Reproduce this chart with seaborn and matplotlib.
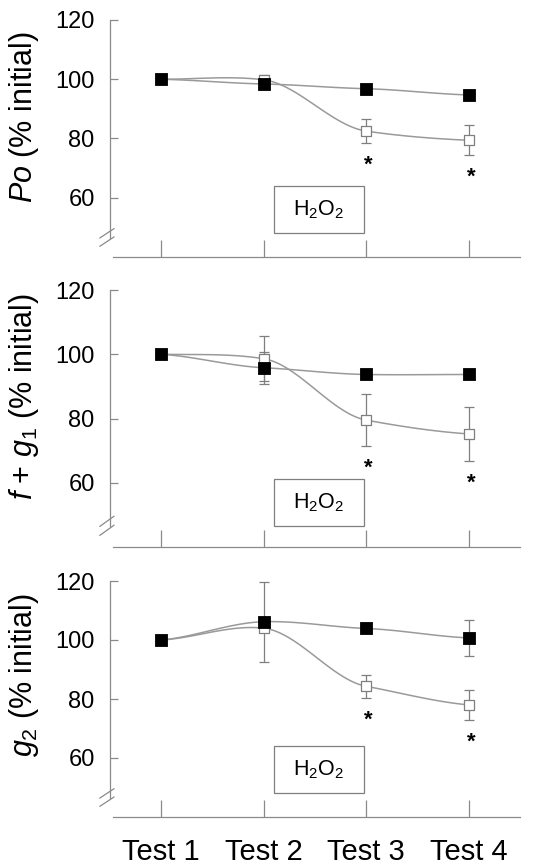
import numpy as np
import pandas as pd
import matplotlib
matplotlib.use("Agg")
import matplotlib.pyplot as plt
import seaborn as sns
from matplotlib.patches import Rectangle

sns.set_theme(style="white")
plt.rcParams['font.family'] = ['Liberation Sans', 'DejaVu Sans']
plt.rcParams['mathtext.fontset'] = 'custom'
plt.rcParams['mathtext.rm'] = 'Liberation Sans'
plt.rcParams['mathtext.it'] = 'Liberation Sans:italic'
plt.rcParams['mathtext.default'] = 'regular'
plt.rcParams['text.color'] = 'black'
plt.rcParams['axes.labelcolor'] = 'black'

# ---------------- data ----------------
tests = ["Test 1", "Test 2", "Test 3", "Test 4"]
ylabels = [r"$\mathit{Po}$ (% initial)",
           r"$\mathit{f}$ + $\mathit{g_1}$ (% initial)",
           r"$\mathit{g}_{2}$ (% initial)"]
treatment_label = r"H$_2$O$_2$"

# Po
po_ctrl = [100.0, 98.4, 96.8, 94.7]
po_ctrl_err = [0.0, 0.0, 0.0, 0.0]
po_h2o2 = [100.0, 99.8, 82.5, 79.4]
po_h2o2_err = [0.0, 1.5, 4.0, 5.0]
po_sig = [False, False, True, True]

# f + g1
fg1_ctrl = [100.0, 95.8, 93.7, 93.7]
fg1_ctrl_err = [0.0, 5.0, 0.0, 0.0]
fg1_h2o2 = [100.0, 98.6, 79.5, 75.2]
fg1_h2o2_err = [0.0, 7.0, 8.0, 8.5]
fg1_sig = [False, False, True, True]

# g2
g2_ctrl = [100.0, 106.2, 103.9, 100.7]
g2_ctrl_err = [0.0, 13.5, 0.0, 6.2]
g2_h2o2 = [100.0, 104.0, 84.3, 78.0]
g2_h2o2_err = [0.0, 0.0, 4.0, 5.0]
g2_sig = [False, False, True, True]

panels = [
    (po_ctrl, po_ctrl_err, po_h2o2, po_h2o2_err, po_sig),
    (fg1_ctrl, fg1_ctrl_err, fg1_h2o2, fg1_h2o2_err, fg1_sig),
    (g2_ctrl, g2_ctrl_err, g2_h2o2, g2_h2o2_err, g2_sig),
]

LINE = "#9a9a9a"
EDGE = "#7f7f7f"
AX = "#8a8a8a"


def smooth_curve(xs, ys, k=0.5, n=40):
    """Cardinal-spline rendering of the line through the data points."""
    xs = np.asarray(xs, float)
    ys = np.asarray(ys, float)
    m = np.zeros_like(ys)
    for i in range(len(ys)):
        if i == 0:
            m[i] = k * (ys[1] - ys[0]) / (xs[1] - xs[0])
        elif i == len(ys) - 1:
            m[i] = k * (ys[-1] - ys[-2]) / (xs[-1] - xs[-2])
        else:
            m[i] = k * (ys[i + 1] - ys[i - 1]) / (xs[i + 1] - xs[i - 1])
    px, py = [], []
    for i in range(len(ys) - 1):
        h = xs[i + 1] - xs[i]
        t = np.linspace(0, 1, n, endpoint=(i == len(ys) - 2))
        h00 = 2 * t**3 - 3 * t**2 + 1
        h10 = t**3 - 2 * t**2 + t
        h01 = -2 * t**3 + 3 * t**2
        h11 = t**3 - t**2
        px.append(xs[i] + t * h)
        py.append(h00 * ys[i] + h10 * h * m[i] + h01 * ys[i + 1] + h11 * h * m[i + 1])
    return np.concatenate(px), np.concatenate(py)


fig = plt.figure(figsize=(5.38, 8.67), dpi=100)
W, H = 538, 867
rects = [(20, 257), (290, 547), (581, 817)]
label_y = [0.59, 0.585, 0.6]
left_px, right_px = 110, 520

xpos = np.arange(len(tests))

for idx, ((ctrl, ctrl_err, trt, trt_err, sig), (top, bot)) in enumerate(zip(panels, rects)):
    ax = fig.add_axes([left_px / W, 1 - bot / H, (right_px - left_px) / W, (bot - top) / H])
    ax.set_xlim(-0.5, 3.5)
    ax.set_ylim(40, 120)

    # smooth connecting curves
    for vals in (trt, ctrl):
        sx, sy = smooth_curve(xpos, vals)
        sns.lineplot(x=sx, y=sy, ax=ax, color=LINE, lw=1.1, sort=False,
                     estimator=None, zorder=2)

    # error bars
    ax.errorbar(xpos, trt, yerr=trt_err, fmt='none', ecolor=EDGE, elinewidth=0.9,
                capsize=3.5, capthick=0.9, zorder=3)
    ax.errorbar(xpos, ctrl, yerr=ctrl_err, fmt='none', ecolor=EDGE, elinewidth=0.9,
                capsize=3.5, capthick=0.9, zorder=3)

    df_t = pd.DataFrame({"x": xpos, "y": trt})
    df_c = pd.DataFrame({"x": xpos, "y": ctrl})
    sns.scatterplot(data=df_t, x="x", y="y", ax=ax, marker='s', s=60,
                    facecolor='white', edgecolor=EDGE, linewidth=0.9, zorder=4)
    sns.scatterplot(data=df_c, x="x", y="y", ax=ax, marker='s', s=70,
                    color='black', edgecolor='black', linewidth=0.6, zorder=5)

    # significance asterisks
    for xi, v, e, s in zip(xpos, trt, trt_err, sig):
        if s:
            ax.annotate("*", xy=(xi, v - e), xytext=(1.5, -16), textcoords='offset points',
                        ha='center', va='center', fontsize=16, fontweight='bold',
                        color='black')

    # treatment box
    bx, bw = 0.40, 0.22
    by = 0.10 if idx != 1 else 0.08
    bh = 47 / (bot - top)
    ax.add_patch(Rectangle((bx, by), bw, bh, transform=ax.transAxes, fill=False,
                           edgecolor=EDGE, lw=0.9, zorder=1))
    ax.text(bx + bw / 2, by + bh / 2, treatment_label, transform=ax.transAxes,
            ha='center', va='center', fontsize=15.5, color='black')

    # axes styling
    for sp in ("top", "right"):
        ax.spines[sp].set_visible(False)
    ax.spines["left"].set_color(AX)
    ax.spines["bottom"].set_color(AX)
    ax.spines["left"].set_linewidth(0.9)
    ax.spines["bottom"].set_linewidth(0.9)
    ax.spines["left"].set_bounds(46.5, 120)
    ax.spines["bottom"].set_bounds(-0.47, 3.5)

    # axis break marks
    for dy in (0.0, 0.035):
        ax.plot([-0.025, 0.01], [0.045 + dy, 0.085 + dy], transform=ax.transAxes,
                color=AX, lw=0.9, clip_on=False)

    ax.set_yticks([60, 80, 100, 120])
    ax.set_xticks(xpos)
    ax.tick_params(axis='y', direction='in', length=6, width=0.9, color=AX,
                   labelcolor='black', labelsize=17, pad=11, left=True)
    ax.tick_params(axis='x', direction='in', length=12, width=0.9, color=AX,
                   labelcolor='black', labelsize=21, pad=15, bottom=True)
    if idx == 2:
        ax.set_xticklabels(tests)
    else:
        ax.set_xticklabels([])
    ax.set_xlabel("")
    ax.set_ylabel(ylabels[idx], fontsize=22, color='black')
    ax.yaxis.set_label_coords(-0.168, label_y[idx])
    ax.grid(False)

fig.savefig("out.png", dpi=100)
